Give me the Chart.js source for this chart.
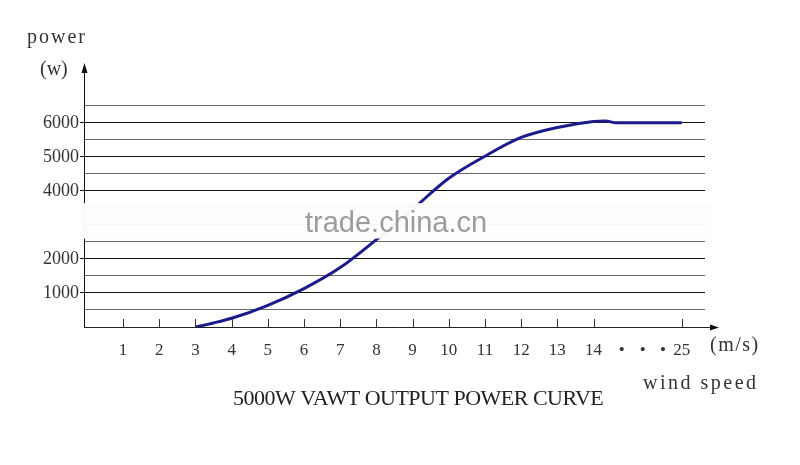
<!DOCTYPE html>
<html><head><meta charset="utf-8">
<script src="https://cdn.jsdelivr.net/npm/chart.js@4/dist/chart.umd.min.js"></script>
<style>html,body{margin:0;padding:0;background:#fff}</style>
</head><body>
<canvas id="c" width="800" height="465"></canvas>
<script>
// ---- data ----
const windSpeed = [3, 3.5, 4, 5, 6, 7, 8, 8.5, 9, 10, 11, 12, 13, 14, 15.5, 16.8, 25];
const powerW    = [0, 118, 256, 638, 1130, 1747, 2570, 3010, 3460, 4370, 5020, 5570, 5865, 6040, 6055, 6000, 6000];
const xTickSpeeds = [1, 2, 3, 4, 5, 6, 7, 8, 9, 10, 11, 12, 13, 14, 25];
const yTickLabels = [1000, 2000, 4000, 5000, 6000];
const chartTitle = '5000W VAWT OUTPUT POWER CURVE';
const yAxisTitle = ['power', '(w)'];
const xAxisTitle = ['(m/s)', 'wind speed'];
const watermark = 'trade.china.cn';

// broken axis: speeds above 14 are compressed
const BREAK = 14, COMPRESS = 2.44 / 11;
const axisPos = w => w <= BREAK ? w : BREAK + (w - BREAK) * COMPRESS;
const dotPos = [14.78, 15.36, 15.92];
const xTicks = [];
xTickSpeeds.forEach(s => { if (s <= BREAK) xTicks.push({value: axisPos(s), label: String(s), mark: true}); });
dotPos.forEach(p => xTicks.push({value: p, label: '•', mark: false}));
xTickSpeeds.filter(s => s > BREAK).forEach(s => xTicks.push({value: axisPos(s), label: String(s), mark: true}));

const SERIF = 'Liberation Serif';

const deco = {
  id: 'deco',
  beforeDraw(chart) {
    const ctx = chart.ctx;
    ctx.save(); ctx.fillStyle = '#fff'; ctx.fillRect(0, 0, chart.width, chart.height); ctx.restore();
  },
  afterDatasetsDraw(chart) {
    const ctx = chart.ctx, xs = chart.scales.x, ys = chart.scales.y, ca = chart.chartArea;
    const y0 = ys.getPixelForValue(0);
    ctx.save();
    // x axis line with arrow
    ctx.strokeStyle = '#222'; ctx.lineWidth = 1;
    ctx.beginPath(); ctx.moveTo(ca.left, Math.round(y0) + 0.5); ctx.lineTo(ca.right + 8, Math.round(y0) + 0.5); ctx.stroke();
    ctx.fillStyle = '#111';
    ctx.beginPath(); ctx.moveTo(ca.right + 14, Math.round(y0) + 0.5); ctx.lineTo(ca.right + 5, Math.round(y0) - 2.5); ctx.lineTo(ca.right + 5, Math.round(y0) + 3.5); ctx.closePath(); ctx.fill();
    // upward tick marks
    ctx.strokeStyle = '#333';
    xTicks.filter(t => t.mark).forEach(t => {
      const px = Math.round(xs.getPixelForValue(t.value)) + 0.5;
      ctx.beginPath(); ctx.moveTo(px, y0 - 8); ctx.lineTo(px, y0); ctx.stroke();
    });
    // y axis arrow
    const ax = Math.round(ca.left) + 0.5;
    ctx.beginPath(); ctx.moveTo(ax, ca.top - 2); ctx.lineTo(ax - 3, ca.top + 8); ctx.lineTo(ax + 3, ca.top + 8); ctx.closePath(); ctx.fill();
    // watermark band
    ctx.fillStyle = 'rgba(253,253,253,0.97)';
    ctx.fillRect(ca.left - 5, ys.getPixelForValue(3640), ca.right - ca.left + 12, ys.getPixelForValue(2600) - ys.getPixelForValue(3640));
    ctx.fillStyle = '#9c9c9c';
    ctx.font = '29px "Liberation Sans"';
    ctx.textBaseline = 'alphabetic'; ctx.textAlign = 'left';
    ctx.fillText(watermark, 305, 232);
    // texts
    ctx.fillStyle = '#333';
    ctx.font = '20px "' + SERIF + '"';
    ctx.letterSpacing = '2px';
    ctx.fillText(yAxisTitle[0], 27, 43);
    ctx.letterSpacing = '0px';
    ctx.fillText(yAxisTitle[1], 40, 75);
    ctx.letterSpacing = '1.5px';
    ctx.fillText(xAxisTitle[0], 710, 351);
    ctx.letterSpacing = '2.5px';
    ctx.fillText(xAxisTitle[1], 643, 389);
    ctx.fillStyle = '#222';
    ctx.font = '22px "' + SERIF + '"';
    ctx.letterSpacing = '-0.5px';
    ctx.fillText(chartTitle, 233, 405);
    ctx.restore();
  }
};

new Chart(document.getElementById('c'), {
  type: 'line',
  data: {
    datasets: [{
      data: windSpeed.map((w, i) => ({x: axisPos(w), y: powerW[i]})),
      borderColor: '#1b1b8c',
      borderWidth: 3,
      pointRadius: 0,
      fill: false,
      cubicInterpolationMode: 'monotone'
    }]
  },
  options: {
    responsive: false,
    animation: false,
    devicePixelRatio: 1,
    layout: {padding: {top: 65, right: 95, left: 0, bottom: 0}},
    plugins: {legend: {display: false}, tooltip: {enabled: false}, title: {display: false}},
    scales: {
      x: {
        type: 'linear', min: -0.08, max: 17.08,
        afterBuildTicks: s => { s.ticks = xTicks.map(t => ({value: t.value})); },
        afterFit: s => { s.height = 138; },
        ticks: {
          autoSkip: false, maxRotation: 0, padding: 13,
          color: '#333', font: {family: SERIF, size: 17},
          callback: (v, i) => xTicks[i] ? xTicks[i].label : ''
        },
        grid: {display: false, drawTicks: false},
        border: {display: false}
      },
      y: {
        type: 'linear', min: 0, max: 7700,
        afterBuildTicks: s => { const t = []; for (let v = 0; v <= 6500; v += 500) t.push({value: v}); s.ticks = t; },
        afterFit: s => { s.width = 84; },
        ticks: {
          autoSkip: false,
          padding: 1, color: '#333', font: {family: SERIF, size: 18},
          callback: v => yTickLabels.includes(v) ? String(v) : ''
        },
        grid: {
          drawTicks: true, tickLength: 4,
          color: c => (c.tick && c.tick.value === 0) ? 'rgba(0,0,0,0)' : (c.tick && c.tick.value % 1000 === 0 ? '#111' : '#6a6a6a'),
          tickColor: c => (c.tick && yTickLabels.includes(c.tick.value)) ? '#111' : 'rgba(0,0,0,0)'
        },
        border: {display: true, color: '#111', width: 1}
      }
    }
  },
  plugins: [deco]
});
</script>
</body></html>
